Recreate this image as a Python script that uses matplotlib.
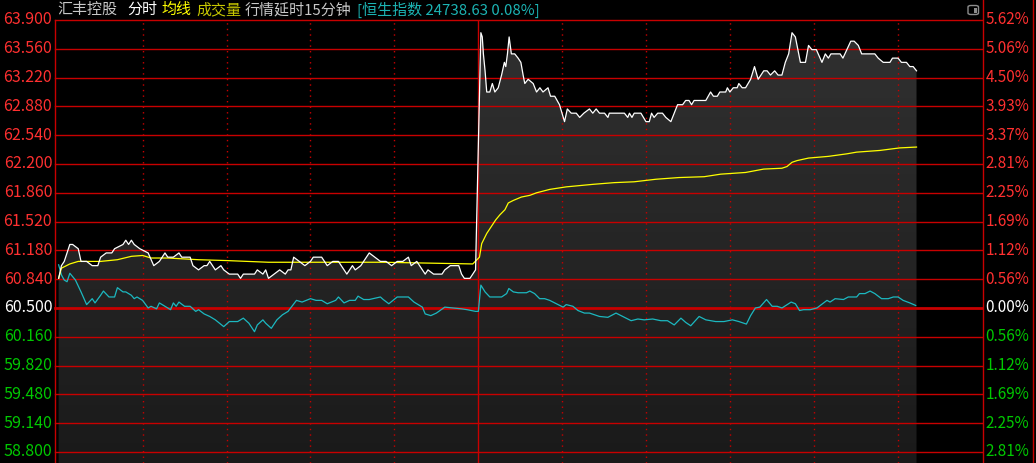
import numpy as np
import matplotlib
matplotlib.use('Agg')
import matplotlib.pyplot as plt
from matplotlib.lines import Line2D
from matplotlib.patches import FancyBboxPatch, Rectangle
from matplotlib.transforms import blended_transform_factory

plt.rcParams['font.family'] = ['Noto Sans CJK SC', 'DejaVu Sans']

# ---- data (minutes since 9:30, lunch removed; 150 = 13:00) ----
prev_close = 60.5
levels = [63.90, 63.56, 63.22, 62.88, 62.54, 62.20, 61.86, 61.52, 61.18, 60.84,
          60.50, 60.16, 59.82, 59.48, 59.14, 58.80]

am_t = [0, 1, 2, 4, 5, 7, 8, 10, 12, 14, 15, 17, 19, 20, 23, 24, 25, 26, 27, 29,
        32, 34, 36, 38, 39, 41, 43, 44, 47, 48, 50, 52, 53, 54, 56, 58, 59, 61, 64, 65,
        66, 70, 71, 73, 74, 75, 77, 79, 81, 82, 83, 84, 86, 88, 90, 91, 94, 96, 98, 100,
        103, 105, 106, 108, 109, 111, 113, 115, 117, 119, 121, 123, 125, 126, 128, 131, 132, 134, 137, 138,
        140, 143, 144, 145, 147, 149]
am_price = [60.85, 61.00, 61.05, 61.25, 61.25, 61.20, 61.05, 61.05, 61.00, 61.00,
            61.10, 61.15, 61.15, 61.20, 61.25, 61.30, 61.25, 61.30, 61.25, 61.20,
            61.15, 61.00, 61.05, 61.15, 61.10, 61.10, 61.15, 61.10, 61.10, 61.00,
            60.95, 61.00, 61.00, 61.05, 60.95, 61.00, 60.95, 60.90, 60.90, 60.85,
            60.90, 60.90, 60.95, 60.90, 60.95, 60.85, 60.90, 60.95, 60.90, 60.95,
            60.95, 61.10, 61.05, 61.00, 61.05, 61.10, 61.10, 61.00, 61.05, 61.05,
            60.90, 61.00, 60.95, 61.00, 61.05, 61.15, 61.10, 61.05, 61.05, 61.00,
            61.05, 61.05, 61.10, 61.00, 61.05, 60.90, 60.95, 60.90, 60.90, 60.95,
            61.00, 61.00, 60.90, 60.85, 60.85, 60.95]

pm_t = [150.0, 150.6, 150.9, 151.4, 151.8, 152.4, 153.0, 154.1, 155.0, 155.9,
        157.1, 158.3, 159.3, 159.8, 160.4, 161.0, 161.8, 163.0, 164.2, 165.2,
        166.0, 166.6, 167.8, 169.6, 170.8, 172.0, 173.1, 174.9, 175.8, 177.3,
        179.0, 180.8, 181.8, 183.2, 185.0, 186.2, 187.7, 189.7, 190.9, 192.1,
        193.3, 195.1, 196.3, 196.8, 202.2, 203.4, 204.0, 204.9, 205.7, 208.1,
        209.9, 211.1, 211.9, 212.8, 214.1, 215.8, 217.0, 218.8, 220.0, 221.2,
        223.0, 224.1, 225.3, 226.2, 227.1, 231.3, 233.0, 234.0, 235.4, 236.3,
        238.4, 239.0, 239.9, 241.1, 242.5, 243.1, 244.3, 245.5, 247.3, 248.7,
        250.0, 252.0, 253.2, 254.4, 255.9, 257.1, 258.5, 259.7, 260.9, 262.1,
        263.3, 265.1, 266.9, 268.0, 269.2, 270.8, 272.8, 274.0, 275.1, 276.0,
        279.3, 280.3, 281.7, 283.1, 284.3, 285.8, 287.0, 291.7, 292.9, 294.7,
        297.1, 298.0, 300.0, 301.2, 303.0, 304.2, 305.4, 306.6]
pm_price = [62.40, 63.30, 63.75, 63.70, 63.50, 63.30, 63.05, 63.05, 63.15, 63.05,
            63.10, 63.25, 63.40, 63.35, 63.50, 63.70, 63.50, 63.50, 63.45, 63.40,
            63.25, 63.15, 63.20, 63.15, 63.05, 63.10, 63.05, 63.10, 63.00, 63.00,
            62.90, 62.70, 62.85, 62.80, 62.80, 62.75, 62.80, 62.85, 62.80, 62.85,
            62.80, 62.80, 62.75, 62.80, 62.80, 62.75, 62.80, 62.75, 62.80, 62.80,
            62.70, 62.70, 62.80, 62.75, 62.80, 62.80, 62.75, 62.70, 62.80, 62.90,
            62.90, 62.95, 62.95, 62.90, 62.95, 62.95, 63.05, 63.00, 63.00, 63.05,
            63.05, 63.10, 63.05, 63.10, 63.10, 63.15, 63.10, 63.10, 63.20, 63.35,
            63.20, 63.30, 63.30, 63.25, 63.30, 63.25, 63.25, 63.40, 63.50, 63.75,
            63.70, 63.40, 63.40, 63.60, 63.55, 63.55, 63.40, 63.50, 63.45, 63.50,
            63.50, 63.45, 63.55, 63.65, 63.65, 63.60, 63.50, 63.50, 63.45, 63.40,
            63.40, 63.45, 63.45, 63.40, 63.40, 63.35, 63.35, 63.30]

avg_t = [0, 1, 4, 7, 15, 21, 26, 30, 33, 39, 50, 60, 75, 90, 104, 116, 132, 148,
         150.4, 151.2, 153.0, 156.2, 157.7, 159.5, 160.7, 162.5, 165.4, 168.4, 170.8, 175.5,
         181.4, 191.0, 198.6, 205.7, 213.5, 221.7, 230.7, 236.6, 245.5, 252.0,
         258.5, 260.3, 262.1, 263.9, 268.0, 275.1, 281.7, 285.2, 293.5, 300.6, 306.6]
avg_price = [60.85, 60.97, 61.02, 61.05, 61.05, 61.07, 61.11, 61.12, 61.09, 61.09,
             61.07, 61.06, 61.04, 61.04, 61.04, 61.04, 61.03, 61.02,
             61.10, 61.26, 61.38, 61.54, 61.60, 61.66, 61.74, 61.77, 61.81, 61.83, 61.86, 61.90,
             61.93, 61.96, 61.98, 61.99, 62.02, 62.04, 62.05, 62.08, 62.10, 62.14,
             62.15, 62.17, 62.22, 62.24, 62.27, 62.29, 62.32, 62.34, 62.36, 62.39, 62.40]

# Hang Seng index, drawn on the price scale
hsi_t = [0, 1, 2, 3, 4, 6, 8, 10, 12, 13, 15, 16, 18, 20, 21, 23, 24, 26, 27, 28,
         30, 32, 33, 35, 36, 38, 40, 41, 42, 43, 45, 47, 49, 50, 52, 54, 56, 59, 61, 64,
         66, 68, 70, 71, 73, 74, 76, 78, 80, 82, 85, 87, 90, 92, 94, 96, 99, 100, 102, 104,
         106, 107, 109, 111, 115, 116, 118, 121, 125, 127, 130, 131, 133, 135, 138, 141, 144, 146, 149,
         150.0, 150.9, 152.4, 154.1, 158.3, 160.1, 160.9, 162.5, 164.2, 167.2,
         168.4, 170.1, 171.9, 173.7, 175.5, 177.9, 180.3, 181.4, 183.8, 185.6,
         187.9, 189.7, 191.5, 193.3, 196.3, 199.2, 201.6, 204.6, 207.0, 209.3,
         212.3, 215.2, 217.6, 220.0, 222.4, 224.1, 225.9, 228.9, 231.3, 234.8,
         237.8, 240.8, 243.1, 245.8, 247.3, 249.0, 250.6, 253.0, 255.0, 256.8,
         258.5, 261.8, 263.3, 264.8, 266.2, 268.6, 271.0, 273.4, 274.6, 275.7,
         277.5, 280.5, 282.2, 285.2, 286.2, 288.2, 290.0, 291.7, 294.1, 296.5,
         298.3, 300.0, 301.8, 304.2, 306.3]
hsi_scaled = [61.01, 60.89, 60.83, 60.81, 60.91, 60.83, 60.69, 60.54, 60.61, 60.56,
              60.65, 60.70, 60.63, 60.63, 60.74, 60.69, 60.69, 60.65, 60.61, 60.63,
              60.59, 60.50, 60.52, 60.49, 60.56, 60.52, 60.48, 60.56, 60.52, 60.57,
              60.52, 60.52, 60.46, 60.48, 60.43, 60.40, 60.36, 60.28, 60.34, 60.34,
              60.38, 60.32, 60.22, 60.30, 60.36, 60.32, 60.26, 60.36, 60.42, 60.46,
              60.59, 60.57, 60.61, 60.59, 60.59, 60.55, 60.59, 60.63, 60.56, 60.59,
              60.59, 60.64, 60.60, 60.60, 60.63, 60.60, 60.55, 60.63, 60.63, 60.57,
              60.51, 60.43, 60.41, 60.44, 60.51, 60.50, 60.49, 60.48, 60.46,
              60.46, 60.77, 60.69, 60.63, 60.63, 60.67, 60.73, 60.69, 60.68, 60.68,
              60.70, 60.67, 60.61, 60.61, 60.59, 60.55, 60.51, 60.54, 60.52, 60.47,
              60.44, 60.44, 60.42, 60.40, 60.39, 60.44, 60.40, 60.35, 60.37, 60.36,
              60.37, 60.35, 60.35, 60.30, 60.38, 60.33, 60.29, 60.40, 60.36, 60.34,
              60.34, 60.36, 60.34, 60.31, 60.41, 60.50, 60.51, 60.60, 60.52, 60.52,
              60.50, 60.57, 60.55, 60.47, 60.48, 60.48, 60.50, 60.56, 60.59, 60.57,
              60.61, 60.60, 60.63, 60.63, 60.67, 60.67, 60.70, 60.67, 60.61, 60.61,
              60.63, 60.63, 60.59, 60.56, 60.53]

half_hours = [30, 60, 90, 120, 150, 180, 210, 240, 270, 300]

# ---- figure ----
W, H = 1036, 463
fig = plt.figure(figsize=(W / 100, H / 100), dpi=100, facecolor='black')
ax = fig.add_axes([55 / W, 0, (982 - 55) / W, (H - 20) / H])
ax.set_facecolor('black')
x0, x1 = -1.3, 330
y0, y1 = 58.67, 63.90
ax.set_xlim(x0, x1)
ax.set_ylim(y0, y1)
ax.set_xticks([])
ax.set_yticks([])
for s in ax.spines.values():
    s.set_visible(False)

RED = '#c80000'

# gradient fill under the price line
t_all = am_t + pm_t
p_all = am_price + pm_price
poly = ax.fill_between(t_all, p_all, y0, facecolor='none', edgecolor='none')
grad = np.linspace(0, 1, 256).reshape(-1, 1)
cm = matplotlib.colors.LinearSegmentedColormap.from_list('g', ['#1a1a1a', '#313131'])
im = ax.imshow(grad, extent=[x0, x1, y0, y1], origin='lower', aspect='auto',
               cmap=cm, zorder=1, interpolation='bilinear')
im.set_clip_path(poly.get_paths()[0], transform=ax.transData)

# grid
for lv in levels:
    ax.axhline(lv, color=RED, lw=2.0 if lv == prev_close else 1.0, zorder=2, clip_on=False)
for h in half_hours:
    if h == 150:
        ax.axvline(h, color=RED, lw=1.0, zorder=2)
    else:
        ax.axvline(h, color=RED, lw=1.0, ls=(0, (1, 3)), zorder=2)

# lines
ax.plot(hsi_t, hsi_scaled, color='#1cb8c0', lw=0.9, zorder=3)
ax.plot(avg_t, avg_price, color='#ffff00', lw=0.9, zorder=4)
ax.plot(t_all, p_all, color='white', lw=0.9, zorder=5)

# borders
fig.add_artist(Line2D([55 / W, 55 / W], [0, (H - 20) / H], color=RED, lw=1.0))
fig.add_artist(Line2D([982.5 / W, 982.5 / W], [0, 1], color=RED, lw=1.0))
fig.add_artist(Line2D([1033 / W, 1033 / W], [0, 1], color=RED, lw=1.0))

# axis labels
tr = blended_transform_factory(ax.transAxes, ax.transData)
for lv in levels:
    if abs(lv - prev_close) < 1e-9:
        c = 'white'
    elif lv > prev_close:
        c = '#ff3030'
    else:
        c = '#00c800'
    pct = abs(lv / prev_close - 1) * 100
    ax.text(-0.003, lv, f'{lv:.3f}', color=c, fontsize=11.5, ha='right', va='center',
            transform=tr, clip_on=False)
    ax.text(1.004, lv, f'{pct:.2f}%', color=c, fontsize=11, ha='left', va='center',
            transform=tr, clip_on=False)

# header
ty = 1 - 10 / H
header = [('汇丰控股', 57, '#c8c8c8'), ('分时', 127, '#ffffff'), ('均线', 161, '#ffff00'),
          ('成交量', 196, '#c8c800'), ('行情延时15分钟', 245, '#c8c8c8'),
          ('[恒生指数 24738.63 0.08%]', 357, '#1cb4b4')]
for txt, px, c in header:
    fig.text(px / W, ty, txt, color=c, fontsize=10.8, ha='left', va='center')

# small icon top right
fig.add_artist(FancyBboxPatch((968 / W, 1 - 14.5 / H), 10.5 / W, 9 / H,
                              boxstyle='round,pad=0,rounding_size=0.003',
                              transform=fig.transFigure, facecolor='none',
                              edgecolor='#8c8c8c', lw=1.0))
fig.add_artist(Rectangle((973.5 / W, 1 - 12.5 / H), 3 / W, 5 / H,
                         transform=fig.transFigure, facecolor='#8c8c8c', edgecolor='none'))

fig.savefig('out.png', dpi=100, facecolor='black')
